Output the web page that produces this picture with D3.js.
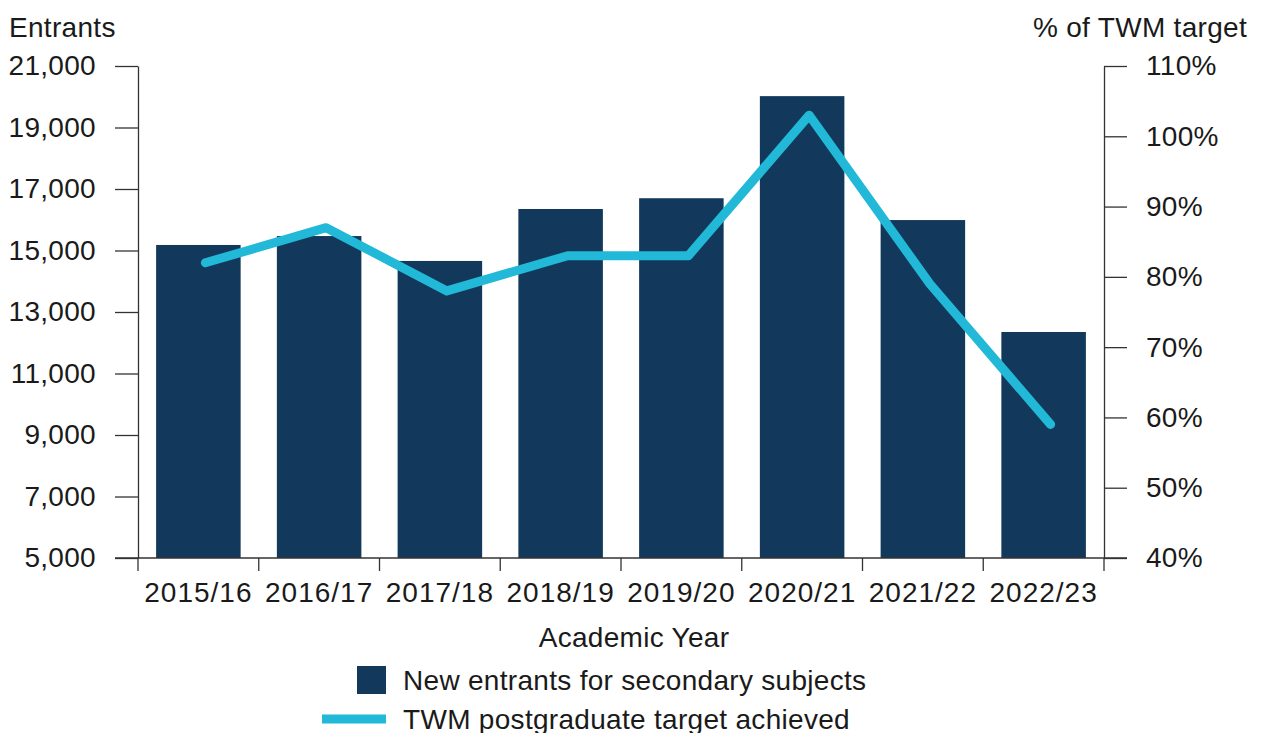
<!DOCTYPE html>
<html><head><meta charset="utf-8">
<script src="https://cdn.jsdelivr.net/npm/d3@7"></script>
<style>
body{margin:0;background:#fff;}
text{font-family:"Liberation Sans",Arial,sans-serif;fill:#1a1a1a;letter-spacing:0.3px;}
</style></head>
<body><svg id="c" width="1262" height="733"></svg>
<script>
const years = ["2015/16","2016/17","2017/18","2018/19","2019/20","2020/21","2021/22","2022/23"];
const entrants = [15180, 15470, 14660, 16350, 16700, 20020, 15990, 12350];
const targetPct = [82, 87, 78, 83, 83, 103, 79, 59];
const leftTicks = [5000,7000,9000,11000,13000,15000,17000,19000,21000];
const rightTicks = [40,50,60,70,80,90,100,110];
const seriesNames = ["New entrants for secondary subjects","TWM postgraduate target achieved"];

const barColor = "#12395c", lineColor = "#22b8d8", axisColor = "#333";
const svg = d3.select("#c");
const L = 138, R = 1104, T = 66, B = 558;

const x = d3.scaleBand().domain(years).range([L, R]).paddingInner(0.3).paddingOuter(0.15);
const yL = d3.scaleLinear().domain([5000, 21000]).range([B, T]);
const yR = d3.scaleLinear().domain([40, 110]).range([B, T]);
const fs = 28;

// bars
svg.append("g").selectAll("rect").data(years).join("rect")
  .attr("x", d => x(d)).attr("width", x.bandwidth())
  .attr("y", (d,i) => yL(entrants[i])).attr("height", (d,i) => B - yL(entrants[i]))
  .attr("fill", barColor);

// left axis
const gl = svg.append("g").attr("transform", `translate(${L},0)`)
  .call(d3.axisLeft(yL).tickValues(leftTicks).tickSize(23).tickSizeOuter(0).tickPadding(19)
        .tickFormat(d3.format(",")));
// right axis
const gr = svg.append("g").attr("transform", `translate(${R},0)`)
  .call(d3.axisRight(yR).tickValues(rightTicks).tickSize(23).tickSizeOuter(0).tickPadding(19)
        .tickFormat(d => d + "%"));
[gl, gr].forEach(g => {
  g.select(".domain").attr("stroke", axisColor).attr("stroke-width", 1.3);
  g.selectAll(".tick line").attr("stroke", axisColor).attr("stroke-width", 1.3);
  g.selectAll(".tick text").attr("font-size", fs).attr("font-family", "Liberation Sans, Arial, sans-serif").attr("fill", "#1a1a1a");
});

// x axis
const step = x.step();
const bounds = years.map(d => x(d) - step * x.paddingInner() / 2).concat([x(years[years.length-1]) + x.bandwidth() + step * x.paddingInner() / 2]);
const gx = svg.append("g");
gx.append("line").attr("x1", L - 23).attr("x2", R + 23).attr("y1", B).attr("y2", B)
  .attr("stroke", axisColor).attr("stroke-width", 1.3);
gx.selectAll("line.t").data(bounds).join("line").attr("class","t")
  .attr("x1", d => d).attr("x2", d => d).attr("y1", B).attr("y2", B + 13)
  .attr("stroke", axisColor).attr("stroke-width", 1.3);
gx.selectAll("text").data(years).join("text")
  .attr("x", d => x(d) + x.bandwidth()/2).attr("y", 602)
  .attr("text-anchor", "middle").attr("font-size", fs).style("letter-spacing", "1px").text(d => d);

// line
const line = d3.line().x((d,i) => x(years[i]) + x.bandwidth()/2 + 7).y(d => yR(d));
svg.append("path").datum(targetPct).attr("d", line)
  .attr("fill", "none").attr("stroke", lineColor).attr("stroke-width", 9)
  .attr("stroke-linejoin", "round").attr("stroke-linecap", "round");

// titles
svg.append("text").attr("x", 9).attr("y", 37).attr("font-size", fs).text("Entrants");
svg.append("text").attr("x", 1247).attr("y", 37).attr("text-anchor", "end").attr("font-size", fs).text("% of TWM target");
svg.append("text").attr("x", 634).attr("y", 647).attr("text-anchor", "middle").attr("font-size", fs).text("Academic Year");

// legend
svg.append("rect").attr("x", 357).attr("y", 666).attr("width", 29).attr("height", 28).attr("fill", barColor);
svg.append("text").attr("x", 403).attr("y", 690).attr("font-size", fs).text(seriesNames[0]);
svg.append("line").attr("x1", 322).attr("x2", 386).attr("y1", 719).attr("y2", 719)
  .attr("stroke", lineColor).attr("stroke-width", 9);
svg.append("text").attr("x", 403).attr("y", 729).attr("font-size", fs).text(seriesNames[1]);
</script></body></html>
